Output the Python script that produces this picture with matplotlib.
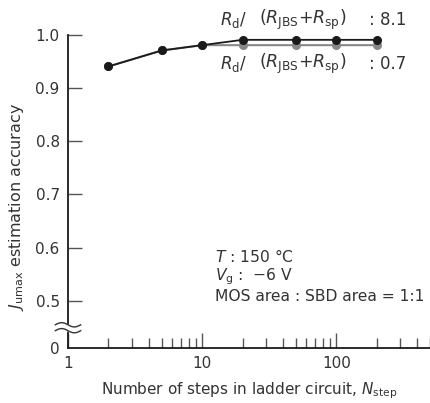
import numpy as np
import matplotlib
matplotlib.use("Agg")
import matplotlib.pyplot as plt
from matplotlib.transforms import blended_transform_factory
from matplotlib.ticker import NullFormatter, LogLocator

plt.rcParams['font.family'] = ['DejaVu Sans']
plt.rcParams['mathtext.fontset'] = 'dejavusans'

# Data
n_steps = [2, 5, 10, 20, 50, 100, 200]
acc_high = [0.94, 0.97, 0.98, 0.99, 0.99, 0.99, 0.99]   # Rd/(RJBS+Rsp) = 8.1
acc_low = [0.94, 0.97, 0.98, 0.98, 0.98, 0.98, 0.98]    # Rd/(RJBS+Rsp) = 0.7
ytick_vals = [0.5, 0.6, 0.7, 0.8, 0.9, 1.0]
ytick_labels = ['0.5', '0.6', '0.7', '0.8', '0.9', '1.0']
xtick_vals = [1, 10, 100]
xtick_labels = ['1', '10', '100']

Y_ZERO = 0.412  # position of the "0" below the axis break

tc = '#333333'
fig = plt.figure(figsize=(4.3, 4.03), dpi=100)
ax = fig.add_axes([68/430, 55/403, 1 - 68/430, (348 - 34.5)/403])

ax.plot(n_steps, acc_low, color='#888888', lw=1.5, marker='o', ms=5.5,
        mec='#888888', mfc='#888888', zorder=2)
ax.plot(n_steps, acc_high, color='#1a1a1a', lw=1.3, marker='o', ms=5.5,
        mec='#1a1a1a', mfc='#1a1a1a', zorder=3)

ax.set_xscale('log')
ax.set_xlim(1, 500)
ax.set_ylim(Y_ZERO, 1.0)

ax.set_yticks([Y_ZERO] + ytick_vals)
ax.set_yticklabels(['0'] + ytick_labels)
ax.set_xticks(xtick_vals)
ax.set_xticklabels(xtick_labels)
ax.xaxis.set_minor_locator(LogLocator(base=10, subs=np.arange(2, 10)))
ax.xaxis.set_minor_formatter(NullFormatter())

for s in ['top', 'right']:
    ax.spines[s].set_visible(False)
for s in ['left', 'bottom']:
    ax.spines[s].set_color('#1a1a1a')
    ax.spines[s].set_linewidth(1.3)

ax.tick_params(axis='y', direction='in', length=10, width=1, color='#555555',
               labelsize=11, labelcolor=tc, pad=6)
ax.tick_params(axis='x', which='major', direction='in', length=11, width=1,
               color='#555555', labelsize=11, labelcolor=tc, pad=6)
ax.tick_params(axis='x', which='minor', direction='in', length=7, width=1,
               color='#555555')
ax.yaxis.get_major_ticks()[0].tick1line.set_visible(False)

ax.set_ylabel(r'$J_{\mathrm{umax}}$ estimation accuracy', fontsize=11.5, color=tc)
ax.yaxis.set_label_coords(-0.117, 0.45)
ax.set_xlabel(r'Number of steps in ladder circuit, $N_{\mathrm{step}}$',
              fontsize=11, color=tc)
ax.xaxis.set_label_coords(0.5, -0.104)

# axis break marks
tr = blended_transform_factory(ax.transAxes, ax.transData)
xs = np.linspace(-0.035, 0.035, 40)
wave = 0.004 * np.sin((xs + 0.035) / 0.07 * 2 * np.pi)
yb1, yb2 = 0.4445, 0.4555
ax.fill_between(xs, yb1 + wave, yb2 + wave, color='white', transform=tr,
                clip_on=False, zorder=5)
ax.plot(xs, yb1 + wave, color='#333333', lw=1, transform=tr, clip_on=False, zorder=6)
ax.plot(xs, yb2 + wave, color='#333333', lw=1, transform=tr, clip_on=False, zorder=6)

# annotations (series labels)
for yv, val in [(1.027, '8.1'), (0.945, '0.7')]:
    ax.text(0.42, yv, r'$R_{\mathrm{d}}$/', fontsize=12, color=tc, ha='left',
            va='center', transform=tr, clip_on=False)
    ax.text(0.528, yv, r'($R_{\mathrm{JBS}}$+$R_{\mathrm{sp}}$)', fontsize=12.5,
            color=tc, ha='left', va='center', transform=tr, clip_on=False)
    ax.text(0.832, yv, ': ' + val, fontsize=12, color=tc, ha='left',
            va='center', transform=tr, clip_on=False)

ax.text(12.5, 0.583, r'$T$ : 150 °C', fontsize=11.2, color=tc, ha='left', va='center')
ax.text(12.5, 0.545, r'$V_{\mathrm{g}}$ :  −6 V', fontsize=11.2, color=tc, ha='left', va='center')
ax.text(12.5, 0.509, 'MOS area : SBD area = 1:1', fontsize=11.2, color=tc,
        ha='left', va='center')

fig.savefig('out.png', dpi=100)
